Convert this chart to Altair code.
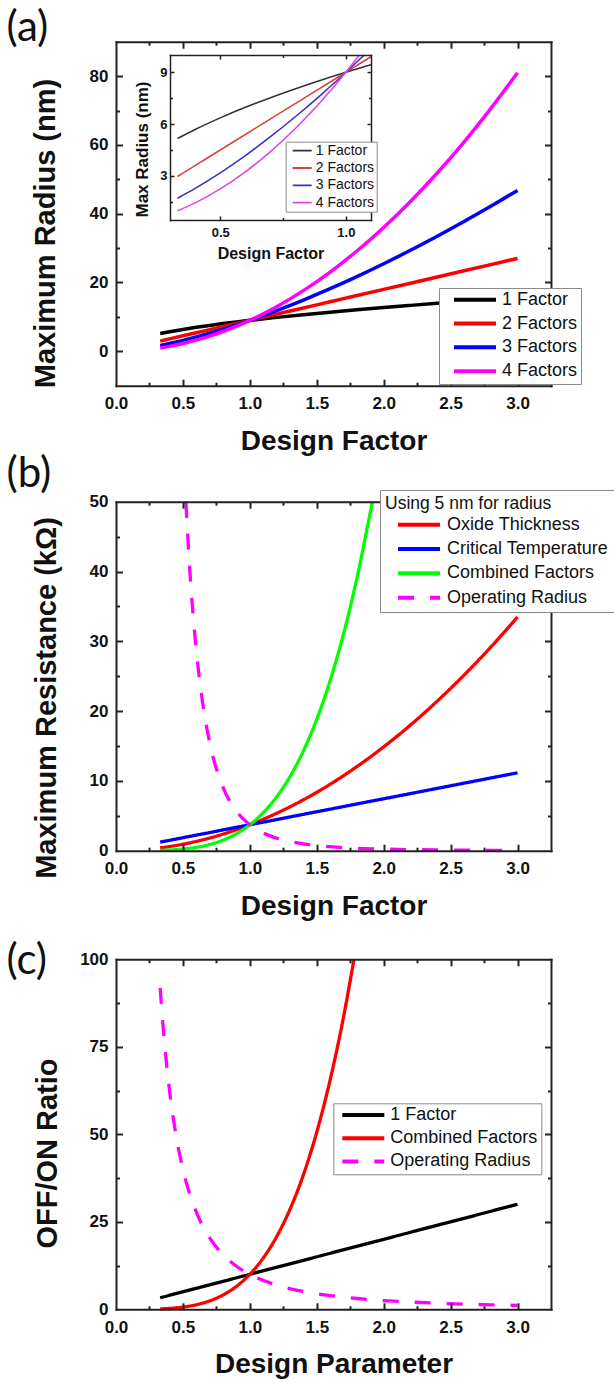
import altair as alt
import pandas as pd

# ---------------- values ----------------
# (a) main panel: Maximum Radius (nm) vs Design Factor
A_X = [0.33, 0.4, 0.5, 0.6, 0.7, 0.8, 0.9, 1.0, 1.2, 1.4, 1.6, 1.8, 2.0, 2.2, 2.4, 2.6, 2.8, 3.0]
A_1F = [5.17, 5.69, 6.36, 6.97, 7.53, 8.05, 8.54, 9.0, 9.86, 10.65, 11.38, 12.07, 12.73, 13.35, 13.94, 14.51, 15.06, 15.59]
A_2F = [2.97, 3.6, 4.5, 5.4, 6.3, 7.2, 8.1, 9.0, 10.8, 12.6, 14.4, 16.2, 18.0, 19.8, 21.6, 23.4, 25.2, 27.0]
A_3F = [1.71, 2.28, 3.18, 4.18, 5.27, 6.44, 7.68, 9.0, 11.83, 14.91, 18.22, 21.73, 25.46, 29.37, 33.46, 37.73, 42.17, 46.77]
A_4F = [0.98, 1.44, 2.25, 3.24, 4.41, 5.76, 7.29, 9.0, 12.96, 17.64, 23.04, 29.16, 36.0, 43.56, 51.84, 60.84, 70.56, 81.0]
A_NAMES = ["1 Factor", "2 Factors", "3 Factors", "4 Factors"]

# (a) inset: Max Radius (nm) vs Design Factor (zoom)
IN_X = [0.33, 0.4, 0.5, 0.6, 0.7, 0.8, 0.9, 1.0, 1.05, 1.1]
IN_1F = [5.17, 5.69, 6.36, 6.97, 7.53, 8.05, 8.54, 9.0, 9.22, 9.44]
IN_2F = [2.97, 3.6, 4.5, 5.4, 6.3, 7.2, 8.1, 9.0, 9.45, 9.9]
IN_3F_X = [0.33, 0.4, 0.5, 0.6, 0.7, 0.8, 0.9, 1.0, 1.05, 1.073]
IN_3F = [1.71, 2.28, 3.18, 4.18, 5.27, 6.44, 7.68, 9.0, 9.68, 10.0]
IN_4F_X = [0.33, 0.4, 0.5, 0.6, 0.7, 0.8, 0.9, 1.0, 1.054]
IN_4F = [0.98, 1.44, 2.25, 3.24, 4.41, 5.76, 7.29, 9.0, 10.0]

# (b) Maximum Resistance (kOhm) vs Design Factor
B_X = [0.33, 0.4, 0.5, 0.6, 0.7, 0.8, 0.9, 1.0, 1.2, 1.4, 1.6, 1.8, 2.0, 2.2, 2.4, 2.6, 2.8, 3.0]
B_OX = [0.41, 0.6, 0.93, 1.34, 1.82, 2.38, 3.01, 3.72, 5.36, 7.29, 9.52, 12.05, 14.88, 18.0, 21.43, 25.15, 29.16, 33.48]
B_CT = [1.23, 1.49, 1.86, 2.23, 2.6, 2.98, 3.35, 3.72, 4.46, 5.21, 5.95, 6.7, 7.44, 8.18, 8.93, 9.67, 10.42, 11.16]
B_CF_X = [0.33, 0.4, 0.5, 0.6, 0.7, 0.8, 0.9, 1.0, 1.1, 1.2, 1.3, 1.4, 1.5, 1.6, 1.7, 1.8, 1.9, 1.916]
B_CF = [0.04, 0.1, 0.23, 0.48, 0.89, 1.52, 2.44, 3.72, 5.45, 7.71, 10.62, 14.29, 18.83, 24.38, 31.07, 39.05, 48.48, 50.0]
B_OR_X = [0.522, 0.55, 0.6, 0.65, 0.7, 0.8, 0.9, 1.0, 1.1, 1.2, 1.4, 1.6, 1.8, 2.0, 2.4, 2.8, 3.0]
B_OR = [50.0, 40.6, 28.7, 20.84, 15.49, 9.08, 5.67, 3.72, 2.54, 1.79, 0.97, 0.57, 0.35, 0.23, 0.11, 0.06, 0.05]
B_NAMES = ["Oxide Thickness", "Critical Temperature", "Combined Factors", "Operating Radius"]

# (c) OFF/ON Ratio vs Design Parameter
C_1F_X = [0.33, 1.0, 2.0, 3.0]
C_1F = [3.3, 10.0, 20.0, 30.0]
C_CF_X = [0.33, 0.4, 0.5, 0.6, 0.7, 0.8, 0.9, 1.0, 1.1, 1.2, 1.3, 1.4, 1.5, 1.6, 1.7, 1.778]
C_CF = [0.12, 0.26, 0.63, 1.3, 2.4, 4.1, 6.56, 10.0, 14.64, 20.74, 28.56, 38.42, 50.63, 65.54, 83.52, 100.0]
C_OR_X = [0.33, 0.35, 0.4, 0.45, 0.5, 0.6, 0.7, 0.8, 0.9, 1.0, 1.2, 1.4, 1.6, 1.8, 2.0, 2.4, 2.8, 3.0]
C_OR = [91.8, 81.6, 62.5, 49.4, 40.0, 27.8, 20.4, 15.6, 12.3, 10.0, 6.94, 5.1, 3.91, 3.09, 2.5, 1.74, 1.28, 1.11]
C_NAMES = ["1 Factor", "Combined Factors", "Operating Radius"]

# tick values / labels
MAIN_X_LABELS = [0.0, 0.5, 1.0, 1.5, 2.0, 2.5, 3.0]
MAIN_X_MAJOR = [0.5, 1.0, 1.5, 2.0, 2.5, 3.0]
MAIN_X_MINOR = [0.25, 0.75, 1.25, 1.75, 2.25, 2.75]
A_Y_LABELS = [0, 20, 40, 60, 80]
A_Y_MINOR = [10, 30, 50, 70]
B_Y_LABELS = [0, 10, 20, 30, 40, 50]
B_Y_MAJOR = [10, 20, 30, 40]
B_Y_MINOR = [5, 15, 25, 35, 45]
C_Y_LABELS = [0, 25, 50, 75, 100]
C_Y_MAJOR = [25, 50, 75]
C_Y_MINOR = [12.5, 37.5, 62.5, 87.5]
IN_X_LABELS = [0.5, 1.0]
IN_X_MINOR = [0.75]
IN_Y_LABELS = [3, 6, 9]
IN_Y_MINOR = [1.5, 4.5, 7.5]

W, H = 614, 1383
FONT = "Liberation Sans"
INK = "#111111"
FRAME = "#222222"


def long_df(series):
    rows = []
    for name, xs, ys in series:
        rows += [{"x": a, "y": b, "s": name} for a, b in zip(xs, ys)]
    return pd.DataFrame(rows)


def legend(x, y, **kw):
    base = dict(orient="none", legendX=x, legendY=y, symbolType="stroke",
                labelFont=FONT, labelColor=INK, labelLimit=400,
                strokeColor="#8a8a8a", fillColor="white",
                zindex=1, rowPadding=0, title=None)
    base.update(kw)
    return alt.Legend(**base)


def panel_layers(df, p):
    xsc = alt.Scale(domain=p["xdom"], range=[p["xl"], p["xr"]], nice=False, zero=False)
    ysc = alt.Scale(domain=p["ydom"], range=[p["yb"], p["yt"]], nice=False, zero=False)
    fw = p["fw"]
    common = dict(grid=False, domainColor=FRAME, domainWidth=fw, domainCap="square",
                  tickColor=FRAME, tickWidth=fw, zindex=1)
    xlab = alt.Axis(orient="bottom", offset=p["yb"] - H, values=p["xlabels"], format=".1f",
                    ticks=False, tickSize=0, domain=True, labels=True,
                    labelFont=FONT, labelFontSize=p["lfs"], labelFontWeight="bold",
                    labelColor=INK, labelPadding=p["xpad"], labelFlush=False,
                    labelOverlap=False,
                    title=p["xtitle"], titleFont=FONT, titleFontSize=p["xtfs"],
                    titleFontWeight="bold", titleColor=INK, titleX=p["xtx"],
                    titleY=p["xty"], titleAlign="center", titleBaseline="alphabetic",
                    titleAngle=0, **common)
    ylab = alt.Axis(orient="left", offset=-p["xl"], values=p["ylabels"], format="d",
                    ticks=False, tickSize=0, domain=True, labels=True,
                    labelFont=FONT, labelFontSize=p["lfs"], labelFontWeight="bold",
                    labelColor=INK, labelPadding=p["ypad"], labelFlush=False,
                    labelOverlap=False,
                    title=p["ytitle"], titleFont=FONT, titleFontSize=p["ytfs"],
                    titleFontWeight="bold", titleColor=INK, titleX=p["ytx"],
                    titleY=p["yty"], titleAlign="center", titleBaseline="alphabetic",
                    titleAngle=270, **common)
    enc = {
        "x": alt.X("x:Q", scale=xsc, axis=xlab),
        "y": alt.Y("y:Q", scale=ysc, axis=ylab),
        "color": alt.Color("s:N", scale=alt.Scale(domain=p["names"], range=p["colors"]),
                           legend=p["legend"]),
    }
    if "dashes" in p:
        enc["strokeDash"] = alt.StrokeDash("s:N", scale=alt.Scale(domain=p["names"], range=p["dashes"]),
                                           legend=p["legend"])
    layers = [alt.Chart(df).mark_line(strokeWidth=p["lw"], interpolate="monotone").encode(**enc)]

    specs = [
        ("top", -p["yb"], "right", p["xl"] - W, False, True),
        ("top", -p["yb"], "right", p["xl"] - W, False, False),
        ("bottom", p["yt"] - H, "left", -p["xr"], True, True),
        ("bottom", p["yt"] - H, "left", -p["xr"], False, False),
    ]
    for xo, xoff, yo, yoff, dom, major in specs:
        size = p["tmaj"] if major else p["tmin"]
        xv = p["xmaj"] if major else p["xmin"]
        yv = p["ymaj"] if major else p["ymin"]
        if dom and major and p.get("label"):
            tkw = dict(title=p["label"], titleFont="Lato", titleFontSize=42,
                       titleFontWeight="normal", titleColor=INK, titleX=6,
                       titleY=p["label_y"], titleAlign="left",
                       titleBaseline="alphabetic", titleAngle=0)
        else:
            tkw = dict(title=None)
        xa = alt.Axis(orient=xo, offset=xoff, values=xv, ticks=True, tickSize=size,
                      labels=False, domain=dom, **common, **tkw)
        ya = alt.Axis(orient=yo, offset=yoff, values=yv, ticks=True, tickSize=size,
                      labels=False, domain=dom, title=None, **common)
        layers.append(alt.Chart(df).mark_point(opacity=0).encode(
            x=alt.X("x:Q", scale=xsc, axis=xa), y=alt.Y("y:Q", scale=ysc, axis=ya)))
    return layers


MAIN = dict(xdom=[0, 3.25], xl=116, xr=551, xlabels=MAIN_X_LABELS, xmaj=MAIN_X_MAJOR,
            xmin=MAIN_X_MINOR, fw=2, lfs=17, xpad=10, ypad=8, xtfs=28, ytfs=29,
            xtx=333.5, xty=63.5, tmaj=6.5, tmin=3.5)

# ---- (a) main ----
df_a = long_df([(A_NAMES[0], A_X, A_1F), (A_NAMES[1], A_X, A_2F),
                (A_NAMES[2], A_X, A_3F), (A_NAMES[3], A_X, A_4F)])
pa = dict(MAIN, ydom=[-10, 90], yb=385.7, yt=41.7, ylabels=A_Y_LABELS,
          ymaj=A_Y_LABELS, ymin=A_Y_MINOR, xtitle="Design Factor",
          ytitle="Maximum Radius (nm)", ytx=-62, yty=233, label="(a)", label_y=-1.5,
          names=A_NAMES, colors=["#000000", "#ff0000", "#0000ff", "#ff00ff"], lw=3.5,
          legend=legend(439, 288, padding=3, clipHeight=17.5, rowPadding=4.8,
                        symbolSize=1764, symbolStrokeWidth=4, symbolOffset=10,
                        labelOffset=4, labelFontSize=18))

# ---- (a) inset ----
df_in = long_df([(A_NAMES[0], IN_X, IN_1F), (A_NAMES[1], IN_X, IN_2F),
                 (A_NAMES[2], IN_3F_X, IN_3F), (A_NAMES[3], IN_4F_X, IN_4F)])
pin = dict(xdom=[0.3, 1.1], xl=170, xr=371, ydom=[0.45, 10], yb=220, yt=55,
           xlabels=IN_X_LABELS, xmaj=IN_X_LABELS, xmin=IN_X_MINOR,
           ylabels=IN_Y_LABELS, ymaj=IN_Y_LABELS, ymin=IN_Y_MINOR,
           fw=1.5, lfs=13, xpad=6, ypad=3, xtfs=16, ytfs=17,
           xtitle="Design Factor", xtx=270.5, xty=38.5,
           ytitle="Max Radius (nm)", ytx=-23, yty=149, tmaj=4, tmin=2.5,
           names=A_NAMES, colors=["#333333", "#d4483c", "#3535c2", "#e045e0"], lw=1.6,
           legend=legend(285.7, 141.7, padding=2, clipHeight=14, rowPadding=3.3,
                         symbolSize=361, symbolStrokeWidth=1.8, symbolOffset=4,
                         labelOffset=3, labelFontSize=14))

# ---- (b) ----
df_b = long_df([(B_NAMES[0], B_X, B_OX), (B_NAMES[1], B_X, B_CT),
                (B_NAMES[2], B_CF_X, B_CF), (B_NAMES[3], B_OR_X, B_OR)])
pb = dict(MAIN, ydom=[0, 50], yb=850.7, yt=501.7, ylabels=B_Y_LABELS,
          ymaj=B_Y_MAJOR, ymin=B_Y_MINOR, xtitle="Design Factor",
          ytitle="Maximum Resistance (k\u03a9)", ytx=-60.5, yty=697.5, label="(b)",
          label_y=-14.9, names=B_NAMES,
          colors=["#ff0000", "#0000ff", "#00ff00", "#ff00ff"],
          dashes=[[1, 0], [1, 0], [1, 0], [16, 16]], lw=3.3,
          legend=legend(380, 490, padding=5, clipHeight=17.5, rowPadding=5.3,
                        symbolSize=1764, symbolStrokeWidth=4, symbolOffset=11,
                        labelOffset=5, labelFontSize=18,
                        title="Using 5 nm for radius", titleFont=FONT,
                        titleFontSize=17.5, titleFontWeight="normal", titleColor=INK,
                        titlePadding=3.5, titleLimit=400))

# ---- (c) ----
df_c = long_df([(C_NAMES[0], C_1F_X, C_1F), (C_NAMES[1], C_CF_X, C_CF),
                (C_NAMES[2], C_OR_X, C_OR)])
pc = dict(MAIN, ydom=[0, 100], yb=1309.3, yt=959.3, ylabels=C_Y_LABELS,
          ymaj=C_Y_MAJOR, ymin=C_Y_MINOR, xtitle="Design Parameter",
          ytitle="OFF/ON Ratio", ytx=-59.5, yty=1153, label="(c)", label_y=14.2,
          names=C_NAMES, colors=["#000000", "#ff0000", "#ff00ff"],
          dashes=[[1, 0], [1, 0], [16, 16]], lw=3.3,
          legend=legend(333.3, 1103.3, padding=3, clipHeight=17.5, rowPadding=4.2,
                        symbolSize=1764, symbolStrokeWidth=4, symbolOffset=4,
                        labelOffset=4, labelFontSize=18))

layers = (panel_layers(df_a, pa) + panel_layers(df_in, pin)
          + panel_layers(df_b, pb) + panel_layers(df_c, pc))

chart = (
    alt.layer(*layers)
    .resolve_scale(x="independent", y="independent", color="independent",
                   strokeDash="independent")
    .resolve_axis(x="independent", y="independent")
    .resolve_legend(color="independent", strokeDash="independent")
    .properties(width=W, height=H, padding=0, background="white",
                autosize=alt.AutoSizeParams(type="none"))
    .configure_view(stroke="transparent")
)

chart.save("out.html", embed_options={"renderer": "svg", "actions": False})
